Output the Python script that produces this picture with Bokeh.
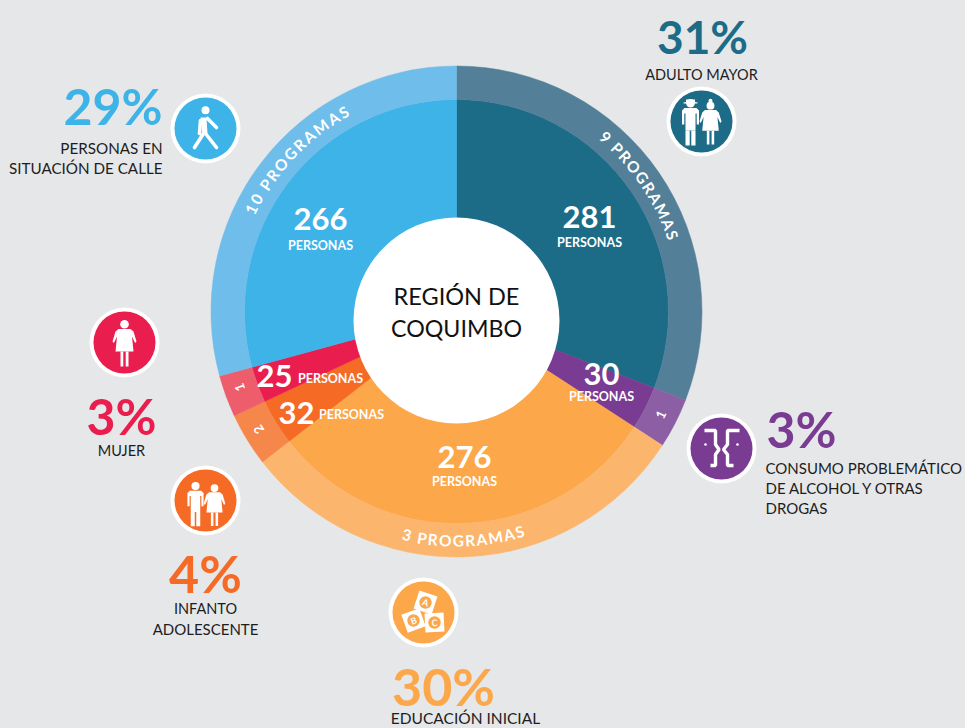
import math
from bokeh.plotting import figure
from bokeh.models import Range1d
from bokeh.core.properties import value
from bokeh.embed import file_html
from bokeh.resources import INLINE

# ---- data (clockwise from 12 o'clock)
categories = ["Adulto mayor", "Consumo", "Educación inicial", "Infanto adolescente", "Mujer", "Personas en situación de calle"]
persons = [281, 30, 276, 32, 25, 266]
programs = [9, 1, 3, 2, 1, 10]
percents = [31, 3, 30, 4, 3, 29]
core_colors = ["#1c6c88", "#7a3b93", "#fba74a", "#f56a25", "#e91e4f", "#3db3e8"]
ring_colors = ["#537f98", "#8c5fa5", "#fcb56c", "#f6874b", "#ee5d6c", "#6fbdea"]
BG = "#e6e7e8"
INK = "#1d1d1f"
FONT = "Lato"

def Y(py):
    return 728 - py

p = figure(width=965, height=728, output_backend="svg", toolbar_location=None,
           x_range=Range1d(0, 965), y_range=Range1d(0, 728),
           background_fill_color=BG, border_fill_color=BG, outline_line_color=None,
           min_border=0, min_border_left=0, min_border_right=0, min_border_top=0, min_border_bottom=0)
p.xaxis.visible = False
p.yaxis.visible = False
p.xgrid.visible = False
p.ygrid.visible = False

def txt(x, y, s, size, color="white", bold=False, align="center", angle=0.0):
    p.text([x], [Y(y)], text=[s], text_font=value(FONT), text_font_size=f"{size}px",
           text_color=color, text_align=align, text_baseline="middle", angle=angle,
           text_font_style="bold" if bold else "normal")

# ---- donut
CX, CY = 456, 311
total = sum(persons)
starts, ends, acc = [], [], 0
for v in persons:
    starts.append(math.pi / 2 - 2 * math.pi * acc / total)
    acc += v
    ends.append(math.pi / 2 - 2 * math.pi * acc / total)
p.annular_wedge([CX] * 6, [Y(CY)] * 6, inner_radius=0, outer_radius=212, start_angle=starts, end_angle=ends,
                direction="clock", fill_color=core_colors, line_color=core_colors, line_width=0.5)
p.annular_wedge([CX] * 6, [Y(CY)] * 6, inner_radius=212, outer_radius=245.5, start_angle=starts, end_angle=ends,
                direction="clock", fill_color=ring_colors, line_color=ring_colors, line_width=0.5)
p.circle([456], [Y(320)], radius=103, fill_color="white", line_color=None)
txt(456, 295, "REGIÓN DE", 23.5, "#111111")
txt(456, 327, "COQUIMBO", 23.2, "#111111")

# ---- curved ring labels
W = {" ": .3, "P": .62, "R": .66, "O": .8, "G": .74, "A": .72, "M": .92, "S": .58}
def arc_text(s, a0, a1, size, bottom=False):
    ws = [W.get(c, .62) for c in s]
    tot = sum(ws) - ws[0] / 2 - ws[-1] / 2
    run = 0
    for i, c in enumerate(s):
        if i:
            run += (ws[i - 1] + ws[i]) / 2
        th = math.radians(a0 + (a1 - a0) * run / tot)
        x = CX + 229 * math.sin(th)
        y = CY - 229 * math.cos(th)
        rot = math.pi - th if bottom else -th
        if c != " ":
            txt(x, y, c, size, "white", True, angle=rot)

arc_text(f"{programs[5]} PROGRAMAS", -63.5, -29.5, 15.5)
arc_text(f"{programs[0]} PROGRAMAS", 40.5, 70.5, 15.5)
arc_text(f"{programs[2]} PROGRAMAS", 192.5, 164, 15.5, bottom=True)
for x, y, n, a in [(239, 387, programs[4], -250), (258, 429, programs[3], -237), (660, 414, programs[1], 65)]:
    txt(x, y, str(n), 13, "white", True, angle=math.radians(a))

# ---- persons
PER = "PERSONAS"
txt(589, 216, str(persons[0]), 31, "white", True); txt(589, 242, PER, 12.5, "white", True)
txt(320, 218, str(persons[5]), 31, "white", True); txt(320, 245, PER, 12.5, "white", True)
txt(464, 456, str(persons[2]), 31, "white", True); txt(464, 481, PER, 12.5, "white", True)
txt(601, 373, str(persons[1]), 31, "white", True); txt(601, 396, PER, 12.5, "white", True)
txt(274, 375, str(persons[4]), 31, "white", True); txt(330, 378, PER, 12.5, "white", True)
txt(296, 412, str(persons[3]), 31, "white", True); txt(351, 414, PER, 12.5, "white", True)

# ---- percentages and captions
txt(702, 36, f"{percents[0]}%", 46, core_colors[0], True)
txt(701, 74, "ADULTO MAYOR", 14.5, INK)
txt(162, 105, f"{percents[5]}%", 50, core_colors[5], True, align="right")
txt(162, 147, "PERSONAS EN", 15.2, INK, align="right")
txt(162, 167, "SITUACIÓN DE CALLE", 15.2, INK, align="right")
txt(766, 428, f"{percents[1]}%", 50, core_colors[1], True, align="left")
txt(765, 467, "CONSUMO PROBLEMÁTICO", 15, INK, align="left")
txt(765, 487, "DE ALCOHOL Y OTRAS", 15, INK, align="left")
txt(765, 507, "DROGAS", 15, INK, align="left")
txt(443, 685, f"{percents[2]}%", 52, core_colors[2], True)
txt(465, 717, "EDUCACIÓN INICIAL", 15.5, INK)
txt(205, 572, f"{percents[3]}%", 52, core_colors[3], True)
txt(205, 608, "INFANTO", 14.5, INK)
txt(205, 628, "ADOLESCENTE", 15, INK)
txt(121, 415, f"{percents[4]}%", 50, core_colors[4], True)
txt(121, 450, "MUJER", 14.5, INK)

# ---- icons
def disc(cx, cy, color):
    p.circle([cx], [Y(cy)], radius=35, fill_color="white", line_color=None)
    p.circle([cx], [Y(cy)], radius=31, fill_color=color, line_color=None)

def poly(cx, cy, s, pts, color="white"):
    p.patch([cx + s * a for a, _ in pts], [Y(cy + s * b) for _, b in pts], fill_color=color, line_color=None)

def head(cx, cy, s, hx, hy, r):
    p.circle([cx + s * hx], [Y(cy + s * hy)], radius=s * r, fill_color="white", line_color=None)

def woman(cx, cy, s):
    head(cx, cy, s, 0, -18.3, 4.3)
    poly(cx, cy, s, [(-6, -13.5), (6, -13.5), (9, -11), (12, -1), (10.6, 0.5), (7.5, -6), (9, 9), (-9, 9), (-7.5, -6), (-10.6, 0.5), (-12, -1), (-9, -11)])
    poly(cx, cy, s, [(-4, 9), (-1.2, 9), (-1.2, 24), (-4, 24)])
    poly(cx, cy, s, [(1.2, 9), (4, 9), (4, 24), (1.2, 24)])

def man(cx, cy, s):
    head(cx, cy, s, 0, -18.3, 4.3)
    poly(cx, cy, s, [(-6, -13.5), (6, -13.5), (8.5, -11), (8.5, 3), (6.2, 3), (6.2, -8), (5, -8), (5, 9), (-5, 9), (-5, -8), (-6.2, -8), (-6.2, 3), (-8.5, 3), (-8.5, -11)])
    poly(cx, cy, s, [(-5, 9), (-0.8, 9), (-0.8, 24), (-5, 24)])
    poly(cx, cy, s, [(0.8, 9), (5, 9), (5, 24), (0.8, 24)])

disc(124, 342, core_colors[4])
woman(124, 342, 1.0)

disc(205, 500, core_colors[3])
man(195, 503, 0.95)
woman(214, 504, 0.9)

disc(701, 121, core_colors[0])
man(690, 121, 1.0)
poly(690, 121, 1.0, [(-4.5, -22), (4.5, -22), (4.5, -19.5), (7, -19), (7, -18), (-7, -18), (-7, -19), (-4.5, -19.5)])
woman(710, 122, 0.92)
head(710, 122, 0.92, 0, -23.5, 2.2)

disc(205, 128, core_colors[5])
head(205, 128, 1, 0, -18.3, 4)
poly(205, 128, 1, [(-5, -11), (1, -11), (2, 6), (-3, 6)])
p.multi_line([[205 + a for a in xs] for xs in [[2, 11], [-5, -6], [-2, -11], [0, 11]]],
             [[Y(128 + b) for b in ys] for ys in [[-10, -1], [-8, 5], [5, 19], [5, 19]]],
             line_color="white", line_width=3.6, line_cap="round")

disc(721, 448, core_colors[1])
left_x, left_y = [-17, -6, -6, -2.5, -6, -6, -11], [-18, -18, -4, 1, 6, 17, 17]
right_x, right_y = [18, 6, 6, 2, 6, 6, 12], [-18, -18, -4, 1, 6, 17, 17]
p.multi_line([[721 + a for a in left_x], [721 + a for a in right_x]],
             [[Y(448 + b) for b in left_y], [Y(448 + b) for b in right_y]],
             line_color="white", line_width=3.4)
p.circle([705, 737], [Y(444), Y(444)], radius=1.3, fill_color="white", line_color=None)

disc(423, 612, core_colors[2])
for dx, dy, rot, letter in [(2, -10, -18, "A"), (-10, 8, 20, "B"), (11, 10, 3, "C")]:
    p.rect([423 + dx], [Y(612 + dy)], width=19, height=19, angle=math.radians(rot), fill_color="white", line_color=None)
    p.circle([423 + dx], [Y(612 + dy)], radius=6.2, fill_color=core_colors[2], line_color=None)
    txt(423 + dx, 612 + dy, letter, 9, "white", True, angle=math.radians(rot))

html = file_html(p, INLINE)
html = html.replace("</head>", f"<style>html,body{{background:{BG};overflow:hidden;margin:0}}</style></head>", 1)
open("out.html", "w").write(html)
